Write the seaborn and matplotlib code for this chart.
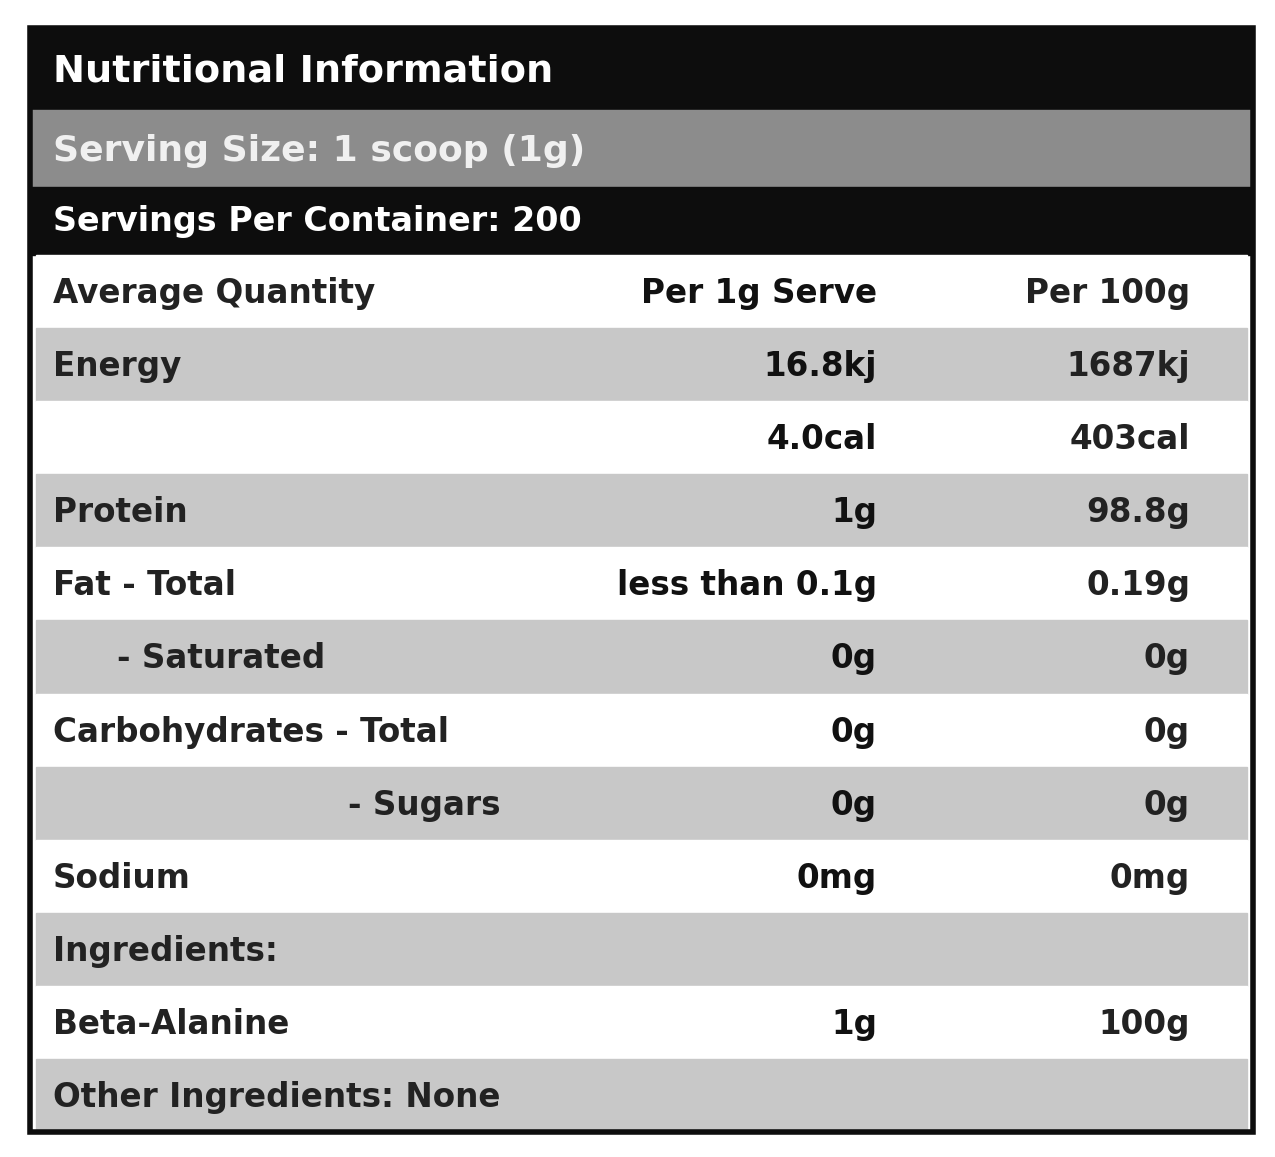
import matplotlib
matplotlib.use("Agg")
import matplotlib.pyplot as plt
import seaborn as sns
from matplotlib.patches import Rectangle

sns.set_theme(style="white")

title = "Nutritional Information"
serving_size = "Serving Size: 1 scoop (1g)"
servings = "Servings Per Container: 200"
labels = ["Average Quantity", "Energy", "", "Protein", "Fat - Total", "- Saturated",
          "Carbohydrates - Total", "- Sugars", "Sodium", "Ingredients:", "Beta-Alanine",
          "Other Ingredients: None"]
per_serve = ["Per 1g Serve", "16.8kj", "4.0cal", "1g", "less than 0.1g", "0g", "0g", "0g", "0mg", "", "1g", ""]
per_100g = ["Per 100g", "1687kj", "403cal", "98.8g", "0.19g", "0g", "0g", "0g", "0mg", "", "100g", ""]

fig = plt.figure(figsize=(12.75, 11.57), dpi=100)
ax = fig.add_axes([0, 0, 1, 1])
ax.set_xlim(0, 1275)
ax.set_ylim(1157, 0)
ax.axis("off")

L, R = 30, 1253
font = dict(fontfamily="DejaVu Sans", fontweight="bold", fontsize=23.5)

ax.add_patch(Rectangle((L, 28), R - L, 82, color="#0d0d0d"))
ax.add_patch(Rectangle((L, 110), R - L, 77, color="#8c8c8c"))
ax.add_patch(Rectangle((L, 187), R - L, 68, color="#0d0d0d"))
ax.text(53, 72, title, color="white", va="center", **{**font, "fontsize": 27.5})
ax.text(53, 151, serving_size, color="#f0f0f0", va="center", **{**font, "fontsize": 26})
ax.text(53, 221, servings, color="white", va="center", **{**font, "fontsize": 24})

top, h = 255, (1132 - 255) / 12
for i, lab in enumerate(labels):
    y0 = top + i * h
    ax.add_patch(Rectangle((L + 6, y0), R - L - 12, h, color="#ffffff" if i % 2 == 0 else "#c8c8c8"))
    yc = y0 + h / 2 + 2
    if lab == "- Saturated":
        ax.text(117, yc, lab, va="center", color="#222222", **font)
    elif lab == "- Sugars":
        ax.text(500, yc, lab, va="center", ha="right", color="#222222", **font)
    else:
        ax.text(53, yc, lab, va="center", color="#222222", **font)
    ax.text(877, yc, per_serve[i], va="center", ha="right", color="#111111", **font)
    ax.text(1190, yc, per_100g[i], va="center", ha="right", color="#222222", **font)

ax.add_patch(Rectangle((L, 28), R - L, 1132 - 28, fill=False, ec="#0d0d0d", lw=4))
fig.savefig("out.png", dpi=100, facecolor="white")
